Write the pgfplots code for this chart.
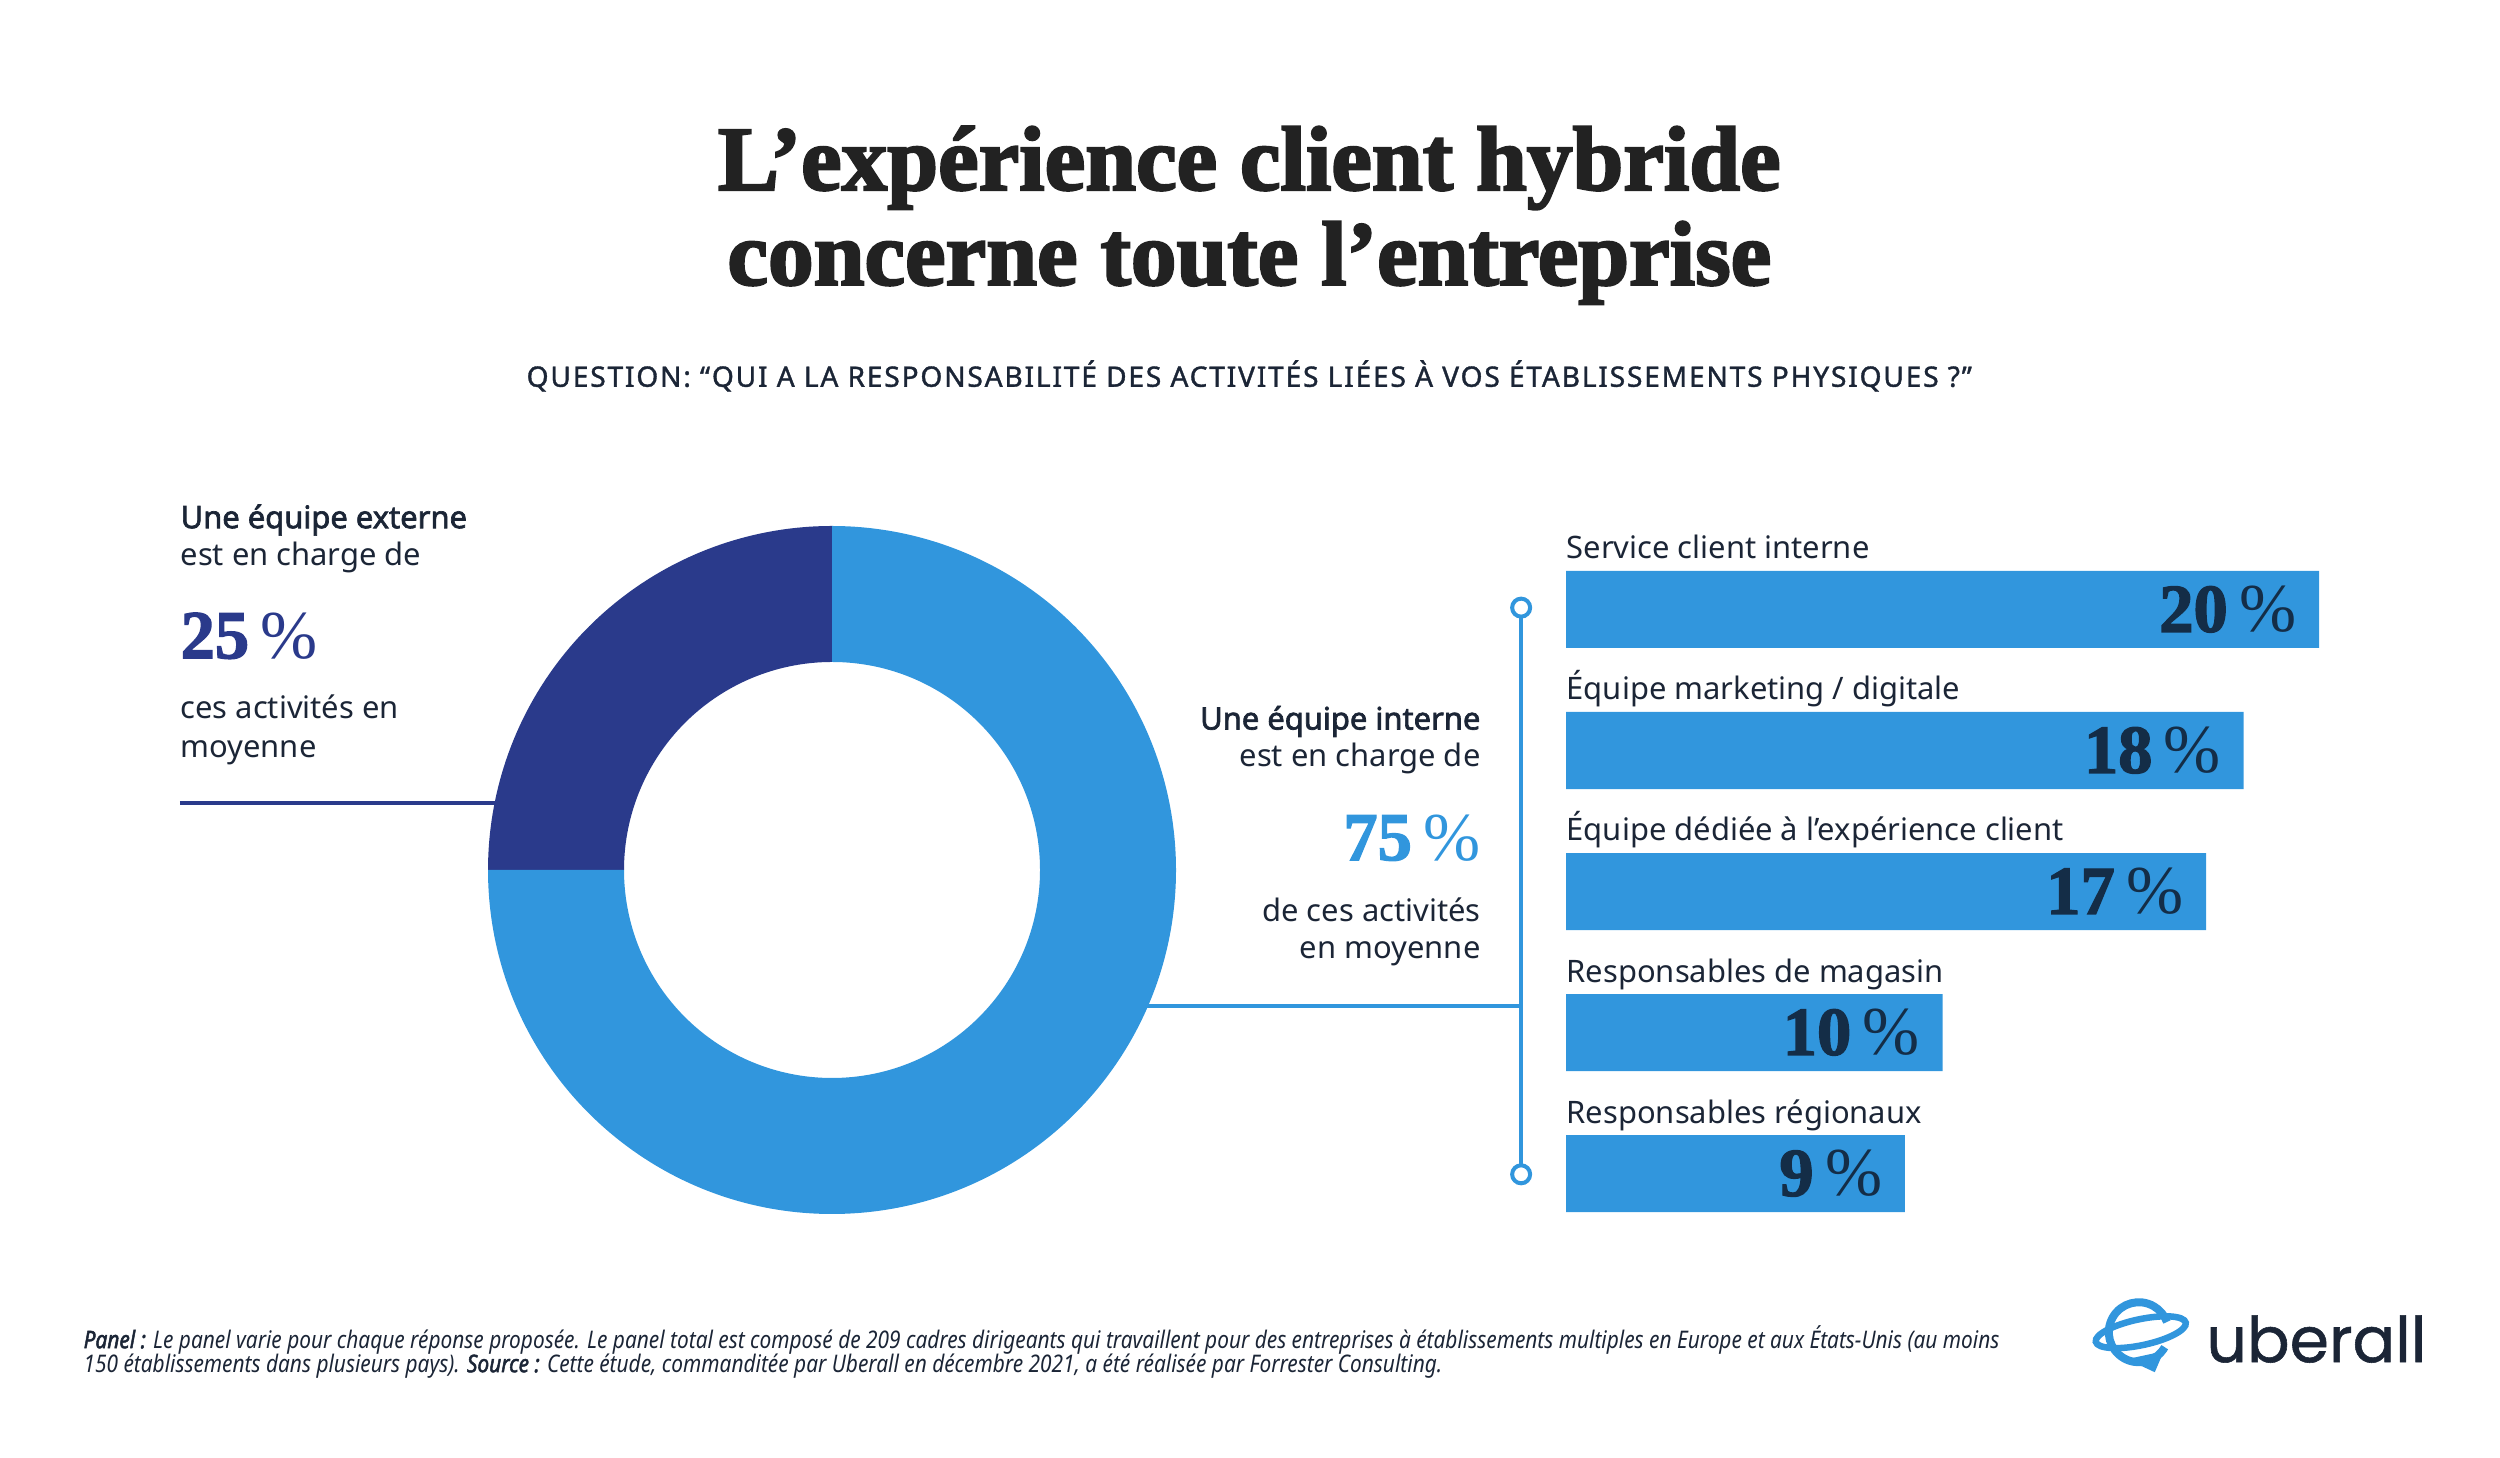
\documentclass[border=0pt]{standalone}
\usepackage{pgfplots}
\pgfplotsset{compat=1.18}
\usepackage{fontspec}
\setmainfont{Noto Sans}
\newfontfamily\boldsans[FakeBold=2.2]{Noto Sans}
\newfontfamily\titlefont[FakeBold=2.5]{Liberation Serif}
\newfontfamily\numfont[FakeBold=2]{Liberation Serif}
\newfontfamily\pctfont{Liberation Serif}
\newfontfamily\subfont[LetterSpace=6.5,FakeBold=1.3]{Noto Sans}
\newfontfamily\footfont[FakeStretch=0.86]{Noto Sans}
\newfontfamily\footbold[FakeStretch=0.86,FakeBold=2]{Noto Sans}
\newfontfamily\logofont[FakeBold=0.9]{Poppins}
\definecolor{ubBlue}{HTML}{3196DD}
\definecolor{ubNavy}{HTML}{2A3A8B}
\definecolor{ubText}{HTML}{1B2536}
\definecolor{ubVal}{HTML}{142D47}
\definecolor{ubTitle}{HTML}{222222}
\def\vExt{25}
\def\vInt{75}
\newcommand\bodyfs{\fontsize{8.8}{10.5}\selectfont}
\newcommand\bignum{\numfont\bfseries\fontsize{19.5}{20}\selectfont}
\newcommand\pct{\,{\pctfont\mdseries\%}}
\begin{document}
\begin{tikzpicture}
\path[use as bounding box] (0,0) rectangle (25,14.58);
% connector lines (under the donut)
\begin{scope}[x=0.01cm,y=-0.01cm,yshift=14.58cm]
\draw[ubNavy, line width=0.04cm] (180,803) -- (500,803);
\draw[ubBlue, line width=0.04cm] (1130,1007) -- (1522,1007);
\draw[ubBlue, line width=0.04cm] (1522,608) -- (1522,1175);
\draw[ubBlue, line width=0.04cm, fill=white] (1522,608) circle[radius=0.09cm];
\draw[ubBlue, line width=0.04cm, fill=white] (1522,1175) circle[radius=0.09cm];
\end{scope}
% donut
\pgfmathsetmacro\aS{90}
\pgfmathsetmacro\aM{90+3.6*\vExt}
\pgfmathsetmacro\aE{90+3.6*(\vExt+\vInt)}
\begin{axis}[at={(8.32cm,5.88cm)}, anchor=center, x=1cm, y=1cm,
  xmin=-3.6, xmax=3.6, ymin=-3.6, ymax=3.6, hide axis, clip=false]
\fill[ubNavy] (axis cs:{3.44*cos(\aS)},{3.44*sin(\aS)}) arc[start angle=\aS,end angle=\aM,radius=3.44cm]
  -- (axis cs:{2.08*cos(\aM)},{2.08*sin(\aM)}) arc[start angle=\aM,end angle=\aS,radius=2.08cm] -- cycle;
\fill[ubBlue] (axis cs:{3.44*cos(\aM)},{3.44*sin(\aM)}) arc[start angle=\aM,end angle=\aE,radius=3.44cm]
  -- (axis cs:{2.08*cos(\aE)},{2.08*sin(\aE)}) arc[start angle=\aE,end angle=\aM,radius=2.08cm] -- cycle;
\end{axis}
% bars
\begin{axis}[at={(15.66cm,9.19cm)}, anchor=north west,
  x=0.3765cm, y=1.41cm, y dir=reverse,
  xmin=0, xmax=21, ymin=-0.5, ymax=4.5,
  axis line style={draw=none}, tick style={draw=none},
  xtick=\empty, ytick={0,1,2,3,4},
  yticklabels={Service client interne, Équipe marketing / digitale, Équipe dédiée à l’expérience client, Responsables de magasin, Responsables régionaux},
  yticklabel style={anchor=base west, inner sep=0pt, yshift=0.505cm, font=\bodyfs, text=ubText},
  clip=false]
\addplot[xbar, bar width=0.77cm, fill=ubBlue, draw=none, point meta=x,
  nodes near coords={\pgfmathprintnumber[assume math mode=true]{\pgfplotspointmeta}\pct},
  nodes near coords align={left},
  every node near coord/.append style={font=\bignum, text=ubVal, inner sep=0pt, xshift=-0.22cm}]
  coordinates {(20,0) (18,1) (17,2) (10,3) (9,4)};
\end{axis}
% texts
\begin{scope}[x=0.01cm,y=-0.01cm,yshift=14.58cm, every node/.style={inner sep=0pt, text=ubText, font=\bodyfs}]
\node[anchor=base, font=\titlefont\bfseries\fontsize{26}{28}\selectfont, text=ubTitle] at (1250,190) {L’expérience client hybride};
\node[anchor=base, font=\titlefont\bfseries\fontsize{26}{28}\selectfont, text=ubTitle] at (1250,285) {concerne toute l’entreprise};
\node[anchor=base, font=\subfont\fontsize{8}{10}\selectfont] at (1250,387) {QUESTION: “QUI A LA RESPONSABILITÉ DES ACTIVITÉS LIÉES À VOS ÉTABLISSEMENTS PHYSIQUES ?”};
% left block
\node[anchor=base west, font=\boldsans\bodyfs] at (180,528.5) {Une équipe externe};
\node[anchor=base west] at (180,566) {est en charge de};
\node[anchor=base west, font=\bignum, text=ubNavy] at (180,658.6) {25\pct};
\node[anchor=base west] at (180,719) {ces activités en};
\node[anchor=base west] at (180,758) {moyenne};
% middle block
\node[anchor=base east, font=\boldsans\bodyfs] at (1482,730) {Une équipe interne};
\node[anchor=base east] at (1482,767) {est en charge de};
\node[anchor=base east, font=\bignum, text=ubBlue] at (1482,860.6) {75\pct};
\node[anchor=base east] at (1482,921.6) {de ces activités};
\node[anchor=base east] at (1482,959) {en moyenne};
% footnote
\node[anchor=base west, font=\footfont\itshape\fontsize{6.9}{8}\selectfont] at (83,1349) {{\footbold\itshape Panel :} Le panel varie pour chaque réponse proposée. Le panel total est composé de 209 cadres dirigeants qui travaillent pour des entreprises à établissements multiples en Europe et aux États-Unis (au moins};
\node[anchor=base west, font=\footfont\itshape\fontsize{6.9}{8}\selectfont] at (83,1373) {150 établissements dans plusieurs pays). {\footbold\itshape Source :} Cette étude, commanditée par Uberall en décembre 2021, a été réalisée par Forrester Consulting.};
% logo
\node[anchor=base west, font=\logofont\fontsize{18}{20}\selectfont, text=ubText] at (2207,1363) {uberall};
\draw[ubBlue, line width=0.08cm] (2140,1333) ++(30:30) arc[start angle=30, end angle=340, radius=30];
\draw[ubBlue, line width=0.065cm, rotate around={12:(2142,1333)}] (2142,1333) ellipse[x radius=46, y radius=13];
\fill[ubBlue] (2128,1360) -- (2156,1373) -- (2165,1352) -- cycle;
\end{scope}
\end{tikzpicture}
\end{document}
